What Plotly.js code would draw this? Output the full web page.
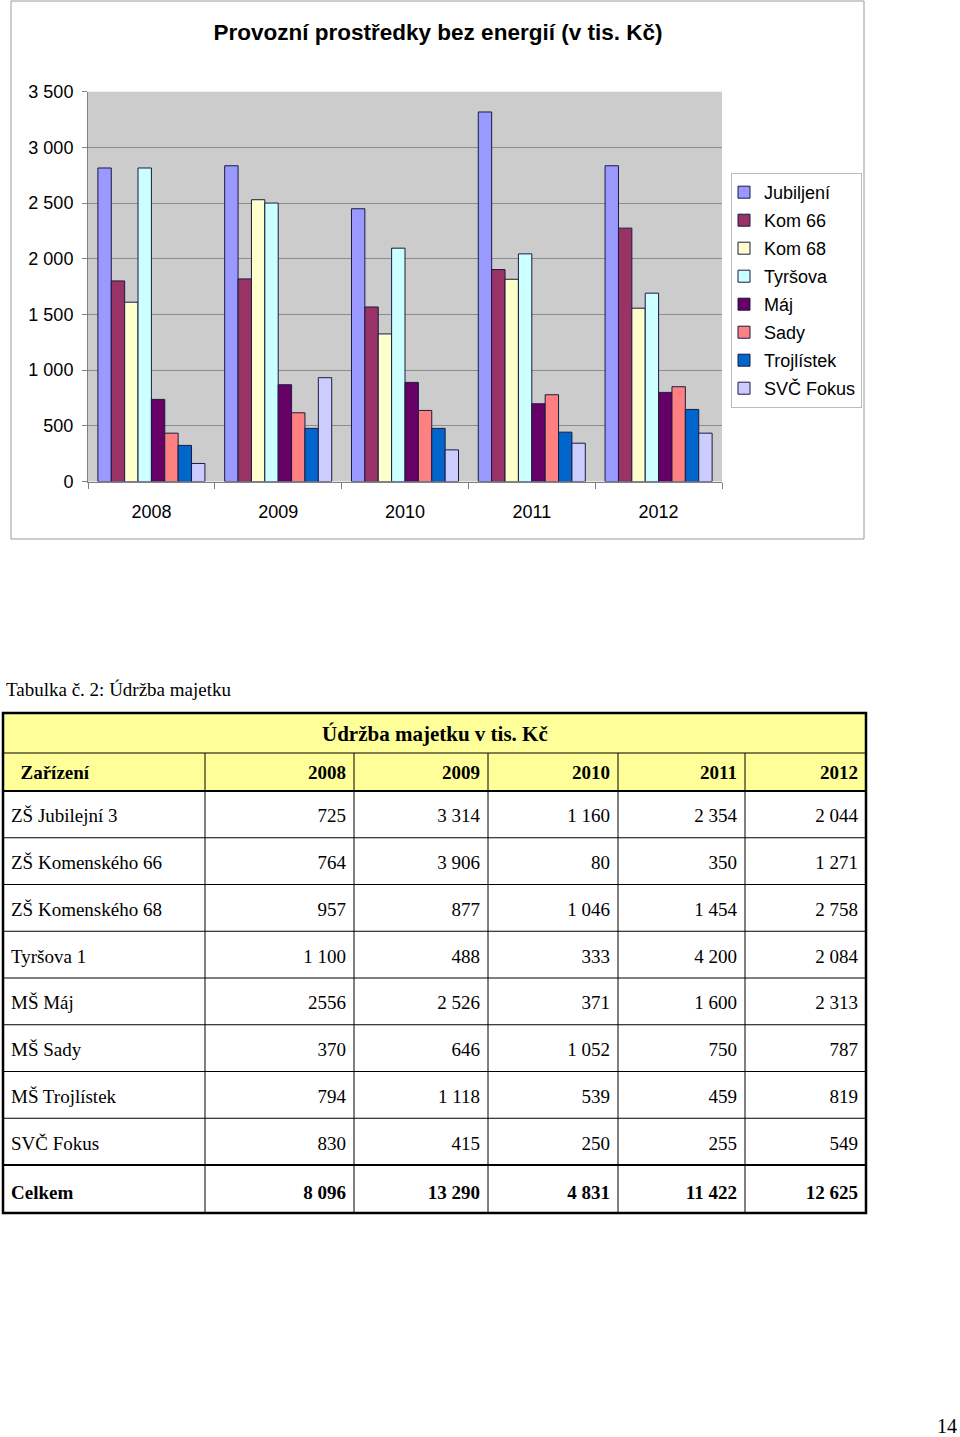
<!DOCTYPE html>
<html>
<head>
<meta charset="utf-8">
<script src="https://cdn.plot.ly/plotly-3.0.1.min.js"></script>
<style>
html,body{margin:0;padding:0;background:#fff;}
#fig{width:960px;height:1437px;}
</style>
</head>
<body>
<div id="fig"></div>
<script>
// ---------- chart data ----------
var years = ['2008', '2009', '2010', '2011', '2012'];
var seriesNames = ['Jubiljení', 'Kom 66', 'Kom 68', 'Tyršova', 'Máj', 'Sady', 'Trojlístek', 'SVČ Fokus'];
var jubiljeni  = [2815, 2835, 2449, 3318, 2835];
var kom66      = [1801, 1819, 1567, 1903, 2275];
var kom68      = [1610, 2530, 1325, 1816, 1556];
var tyrsova    = [2815, 2500, 2095, 2044, 1691];
var maj        = [737, 869, 890, 698, 800];
var sady       = [434, 617, 638, 779, 851];
var trojlistek = [324, 477, 477, 443, 647];
var svcFokus   = [162, 932, 284, 344, 434];
var seriesColors = ['#9999FF', '#993366', '#FFFFCC', '#CCFFFF', '#660066', '#FF8080', '#0066CC', '#CCCCFF'];
var yTickVals = [0, 500, 1000, 1500, 2000, 2500, 3000, 3500];
var yTickText = ['0', '500', '1 000', '1 500', '2 000', '2 500', '3 000', '3 500'];

// ---------- table data ----------
var tableTitle = 'Údržba majetku v tis. Kč';
var tableCaption = 'Tabulka č. 2: Údržba majetku';
var headerLabels = ['Zařízení', '2008', '2009', '2010', '2011', '2012'];
var facilities = ['ZŠ Jubilejní 3', 'ZŠ Komenského 66', 'ZŠ Komenského 68', 'Tyršova 1', 'MŠ Máj', 'MŠ Sady', 'MŠ Trojlístek', 'SVČ Fokus', 'Celkem'];
var col2008 = ['725', '764', '957', '1 100', '2556', '370', '794', '830', '8 096'];
var col2009 = ['3 314', '3 906', '877', '488', '2 526', '646', '1 118', '415', '13 290'];
var col2010 = ['1 160', '80', '1 046', '333', '371', '1 052', '539', '250', '4 831'];
var col2011 = ['2 354', '350', '1 454', '4 200', '1 600', '750', '459', '255', '11 422'];
var col2012 = ['2 044', '1 271', '2 758', '2 084', '2 313', '787', '819', '549', '12 625'];
var pageNumber = '14';

// ---------- geometry helpers (pixels -> paper) ----------
var W = 960, H = 1437;
function px(x){ return x / W; }
function py(y){ return 1 - y / H; }

var seriesValues = [jubiljeni, kom66, kom68, tyrsova, maj, sady, trojlistek, svcFokus];
var traces = seriesNames.map(function(n, i){
  return {
    type: 'bar', name: n, x: years, y: seriesValues[i],
    xaxis: 'x', yaxis: 'y',
    legendgroup: 'g' + i,
    marker: {color: seriesColors[i], line: {color: '#1a1a40', width: 1}},
    hoverinfo: 'x+y+name'
  };
});

function boldLast(arr){
  return arr.map(function(v, i){ return i === arr.length - 1 ? '<b>' + v + '</b>' : v; });
}

var serif = 'Liberation Serif, Times New Roman, serif';
var sans = 'Liberation Sans, Arial, sans-serif';

// table layout (pixels)
var tLeft = 3, tRight = 866, tTop = 713, titleBottom = 753, headBottom = 791, rowH = 46.75;
var colWidths = [202, 149, 134, 130, 127, 121];
var nRows = facilities.length;
var tBottom = headBottom + rowH * (nRows - 1) + 48;

traces.push({
  type: 'table',
  domain: {x: [px(tLeft), px(tRight)], y: [py(1230), py(titleBottom + 1)]},
  columnwidth: colWidths,
  header: {
    values: headerLabels.map(function(h, i){ return i === 0 ? '<b>\u00a0\u00a0' + h + '</b>' : '<b>' + h + '</b>'; }),
    align: ['left', 'right', 'right', 'right', 'right', 'right'],
    fill: {color: 'rgba(0,0,0,0)'},
    line: {color: 'rgba(0,0,0,0)', width: 0},
    font: {family: serif, size: 19, color: '#000'},
    height: 46
  },
  cells: {
    values: [boldLast(facilities), boldLast(col2008), boldLast(col2009), boldLast(col2010), boldLast(col2011), boldLast(col2012)],
    align: ['left', 'right', 'right', 'right', 'right', 'right'],
    fill: {color: 'rgba(0,0,0,0)'},
    line: {color: 'rgba(0,0,0,0)', width: 0},
    font: {family: serif, size: 19, color: '#000'},
    height: rowH
  },
  hoverinfo: 'skip'
});

// table grid shapes
var shapes = [
  {type: 'rect', xref: 'paper', yref: 'paper', x0: px(11), x1: px(864), y0: py(539), y1: py(1), line: {color: '#9a9a9a', width: 1}, layer: 'below'},
  {type: 'rect', xref: 'paper', yref: 'paper', x0: px(tLeft), x1: px(tRight), y0: py(headBottom), y1: py(tTop), fillcolor: '#FFFF99', line: {width: 0}, layer: 'below'},
  {type: 'line', xref: 'paper', yref: 'paper', x0: px(tLeft), x1: px(tRight), y0: py(titleBottom), y1: py(titleBottom), line: {color: '#000', width: 1}}
];
// column separators
var cx = tLeft;
for (var c = 0; c < colWidths.length - 1; c++) {
  cx += colWidths[c];
  shapes.push({type: 'line', xref: 'paper', yref: 'paper', x0: px(cx), x1: px(cx), y0: py(titleBottom), y1: py(tBottom), line: {color: '#000', width: 1}});
}
// row separators
shapes.push({type: 'line', xref: 'paper', yref: 'paper', x0: px(tLeft), x1: px(tRight), y0: py(headBottom), y1: py(headBottom), line: {color: '#000', width: 2}});
for (var r = 1; r < nRows; r++) {
  var ry = headBottom + rowH * r;
  shapes.push({type: 'line', xref: 'paper', yref: 'paper', x0: px(tLeft), x1: px(tRight), y0: py(ry), y1: py(ry), line: {color: '#000', width: r === nRows - 1 ? 2 : 1}});
}
shapes.push({type: 'rect', xref: 'paper', yref: 'paper', x0: px(tLeft), x1: px(tRight), y0: py(tBottom), y1: py(tTop), line: {color: '#000', width: 2.5}});

var layout = {
  width: W, height: H,
  margin: {l: 0, r: 0, t: 0, b: 0},
  paper_bgcolor: '#FFFFFF',
  plot_bgcolor: '#CCCCCC',
  showlegend: true,
  barmode: 'group',
  bargap: 0.156,
  bargroupgap: 0,
  title: {
    text: '<b>Provozní prostředky bez energií (v tis. Kč)</b>',
    x: px(438), xanchor: 'center', xref: 'paper',
    y: py(32), yanchor: 'middle', yref: 'paper',
    font: {family: sans, size: 22.5, color: '#000'}
  },
  xaxis: {
    domain: [px(88), px(722)],
    anchor: 'y',
    type: 'category',
    showline: true, linecolor: '#808080', linewidth: 1,
    ticks: 'outside', tickson: 'boundaries', ticklen: 6, tickcolor: '#808080',
    tickfont: {family: sans, size: 18, color: '#000'},
    ticklabelstandoff: 14,
    showgrid: false, zeroline: false,
    fixedrange: true
  },
  yaxis: {
    domain: [py(481.5), py(91.7)],
    anchor: 'x',
    range: [0, 3500],
    tickvals: yTickVals, ticktext: yTickText,
    showline: true, linecolor: '#808080', linewidth: 1,
    ticks: 'outside', ticklen: 5, tickcolor: '#808080',
    showgrid: true, gridcolor: '#8c8c8c', gridwidth: 1,
    zeroline: false,
    tickfont: {family: sans, size: 18, color: '#000'},
    ticklabelstandoff: 5,
    fixedrange: true
  },
  legend: {
    x: px(731), xanchor: 'left', xref: 'paper',
    y: py(173), yanchor: 'top', yref: 'paper',
    bgcolor: '#FFFFFF', bordercolor: '#BBBBBB', borderwidth: 1,
    font: {family: sans, size: 18, color: '#000'},
    itemwidth: 30,
    indentation: -8,
    tracegroupgap: 1.6,
    traceorder: 'grouped'
  },
  shapes: shapes,
  annotations: [
    {text: '<b>' + tableTitle + '</b>', xref: 'paper', yref: 'paper', x: px(435), y: py(734), xanchor: 'center', yanchor: 'middle', showarrow: false, font: {family: serif, size: 21, color: '#000'}},
    {text: tableCaption, xref: 'paper', yref: 'paper', x: px(4), y: py(690), xanchor: 'left', yanchor: 'middle', showarrow: false, font: {family: serif, size: 19, color: '#000'}},
    {text: pageNumber, xref: 'paper', yref: 'paper', x: px(959), y: py(1426), xanchor: 'right', yanchor: 'middle', showarrow: false, font: {family: serif, size: 20, color: '#000'}}
  ]
};

Plotly.newPlot('fig', traces, layout, {displayModeBar: false, staticPlot: true});
</script>
</body>
</html>
